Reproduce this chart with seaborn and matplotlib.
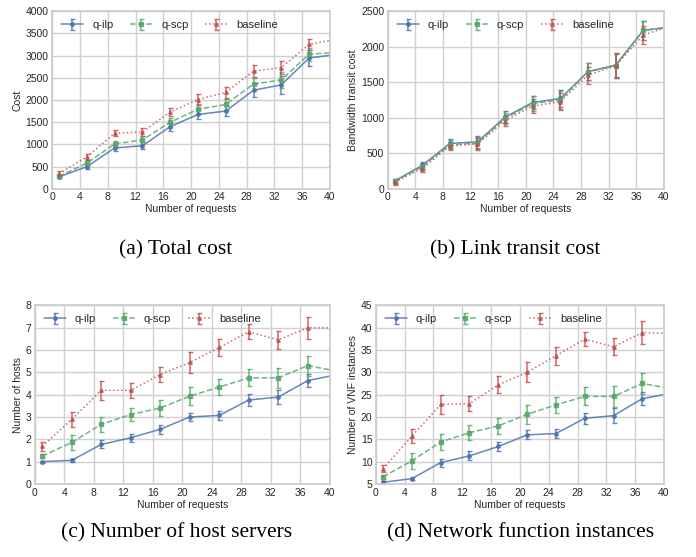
import numpy as np
import seaborn as sns
import matplotlib
matplotlib.use('Agg')
import matplotlib.pyplot as plt

requests = [1, 5, 9, 13, 17, 21, 25, 29, 33, 37, 40]
methods = ['q-ilp', 'q-scp', 'baseline']

# (a) total cost
cost_mean = {
    'q-ilp': [270, 500, 920, 970, 1400, 1675, 1750, 2220, 2340, 2945, 3005],
    'q-scp': [280, 580, 1010, 1100, 1500, 1790, 1900, 2360, 2450, 3030, 3060],
    'baseline': [340, 720, 1250, 1280, 1730, 2010, 2170, 2650, 2730, 3250, 3340],
}
cost_err = {
    'q-ilp': [30, 50, 60, 80, 90, 110, 110, 150, 200, 170, 0],
    'q-scp': [30, 60, 60, 80, 100, 110, 120, 140, 170, 150, 0],
    'baseline': [50, 70, 70, 90, 90, 120, 120, 130, 150, 130, 0],
}

# (b) link transit cost
link_mean = {
    'q-ilp': [110, 330, 638, 661, 1010, 1215, 1271, 1648, 1741, 2230, 2267],
    'q-scp': [105, 310, 620, 645, 990, 1200, 1250, 1650, 1735, 2230, 2260],
    'baseline': [95, 285, 605, 630, 960, 1165, 1225, 1600, 1730, 2165, 2260],
}
link_err = {
    'q-ilp': [35, 50, 60, 80, 80, 90, 120, 120, 170, 130, 0],
    'q-scp': [35, 50, 60, 80, 80, 100, 120, 120, 170, 130, 0],
    'baseline': [35, 50, 60, 80, 80, 100, 120, 120, 170, 130, 0],
}

# (c) number of hosts
host_mean = {
    'q-ilp': [1.0, 1.06, 1.77, 2.07, 2.45, 3.0, 3.07, 3.76, 3.89, 4.63, 4.83],
    'q-scp': [1.25, 1.86, 2.67, 3.11, 3.4, 3.93, 4.34, 4.75, 4.75, 5.3, 5.11],
    'baseline': [1.68, 2.89, 4.19, 4.19, 4.9, 5.44, 6.11, 6.81, 6.45, 6.99, 6.99],
}
host_err = {
    'q-ilp': [0.05, 0.08, 0.18, 0.18, 0.2, 0.2, 0.2, 0.25, 0.33, 0.28, 0],
    'q-scp': [0.1, 0.35, 0.35, 0.3, 0.35, 0.4, 0.35, 0.38, 0.45, 0.45, 0],
    'baseline': [0.18, 0.32, 0.43, 0.35, 0.35, 0.45, 0.4, 0.33, 0.4, 0.48, 0],
}

# (d) vnf instances
vnf_mean = {
    'q-ilp': [5.4, 6.2, 9.8, 11.3, 13.4, 16.0, 16.3, 19.7, 20.3, 24.1, 25.0],
    'q-scp': [6.6, 10.2, 14.4, 16.5, 18.0, 20.6, 22.7, 24.6, 24.6, 27.5, 26.6],
    'baseline': [8.4, 15.7, 22.8, 23.0, 27.2, 30.0, 33.7, 37.4, 35.7, 38.9, 38.7],
}
vnf_err = {
    'q-ilp': [0.3, 0.4, 0.9, 1.0, 1.0, 1.0, 1.1, 1.2, 1.6, 1.4, 0],
    'q-scp': [0.5, 1.8, 1.8, 1.6, 1.8, 2.1, 1.8, 2.0, 2.4, 2.3, 0],
    'baseline': [0.8, 1.5, 2.2, 1.7, 1.9, 2.2, 2.0, 1.6, 1.9, 2.5, 0],
}

sns.set_theme(style='whitegrid')
plt.rcParams['font.family'] = ['Liberation Sans', 'DejaVu Sans']

colors = sns.color_palette('deep')
styles = {'q-ilp': ('-', colors[0], 'o'),
          'q-scp': ('--', colors[2], 's'),
          'baseline': (':', colors[3], '^')}

fig = plt.figure(figsize=(6.96, 5.57), dpi=100)

panels = [
    ([0.075, 0.661, 0.399, 0.319], cost_mean, cost_err, 'Cost', (0, 4000), 500),
    ([0.557, 0.661, 0.397, 0.319], link_mean, link_err, 'Bandwidth transit cost', (0, 2500), 500),
    ([0.050, 0.131, 0.424, 0.321], host_mean, host_err, 'Number of hosts', (0, 8), 1),
    ([0.540, 0.131, 0.414, 0.321], vnf_mean, vnf_err, 'Number of VNF instances', (5, 45), 5),
]

n_err = len(requests) - 1
mask = [True] * n_err + [False]

for rect, means, errs, ylabel, ylim, ystep in panels:
    ax = fig.add_axes(rect)
    for m in methods:
        ls, c, mk = styles[m]
        ax.errorbar(requests, means[m], yerr=errs[m], label=m, color=c, ls=ls,
                    lw=1.1, marker=mk, ms=2.5, markevery=list(range(n_err)),
                    errorevery=mask, elinewidth=1.1, capsize=1.8, capthick=1,
                    alpha=0.85)
    ax.set_xlim(0, 40)
    ax.set_ylim(*ylim)
    ax.set_xticks(np.arange(0, 41, 4))
    ax.set_yticks(np.arange(ylim[0], ylim[1] + ystep / 2, ystep))
    ax.tick_params(labelsize=7.5, pad=2.5, length=0)
    ax.set_xlabel('Number of requests', fontsize=7.5, labelpad=1.5)
    ax.set_ylabel(ylabel, fontsize=7.5, labelpad=2)
    ax.grid(True, color='#d0d0d0', lw=1)
    for s in ax.spines.values():
        s.set_color('#cccccc')
    ax.legend(loc='upper left', ncol=3, frameon=False, fontsize=8,
              handlelength=2.0, columnspacing=1.5, borderaxespad=0.4)

caps = [(0.252, 0.535, '(a) Total cost'), (0.74, 0.535, '(b) Link transit cost'),
        (0.253, 0.026, '(c) Number of host servers'), (0.748, 0.026, '(d) Network function instances')]
for x, y, t in caps:
    fig.text(x, y, t, ha='center', va='bottom', fontsize=15.5,
             family=['Liberation Serif', 'DejaVu Serif'], color='black')

fig.savefig('out.png', dpi=100)
